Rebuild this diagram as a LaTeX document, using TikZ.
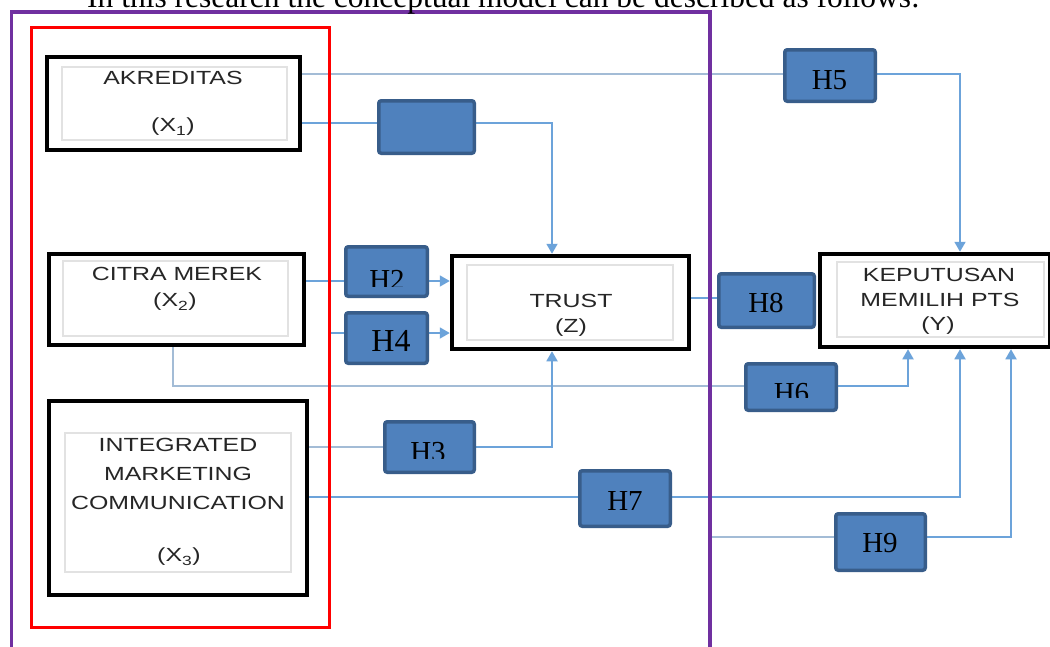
\documentclass[tikz,border=0pt]{standalone}
\usepackage{fontspec}
\usepackage{graphicx}
\setmainfont{Liberation Serif}
\newfontfamily\arialf{Liberation Sans}
\usetikzlibrary{arrows.meta}
\definecolor{hfill}{RGB}{79,129,189}
\definecolor{hdraw}{RGB}{56,93,138}
\definecolor{connb}{RGB}{108,163,218}
\definecolor{conngr}{RGB}{163,188,214}
\definecolor{purp}{RGB}{112,48,160}
\definecolor{innergrey}{RGB}{226,226,226}
\newcommand{\boxtxt}[1]{\scalebox{1.31}[1]{#1}}
\pgfdeclarelayer{bglayer}
\pgfdeclarelayer{framelayer}
\pgfsetlayers{bglayer,framelayer,main}
\begin{document}
\begin{tikzpicture}[x=1pt,y=-1pt,
  bigbox/.style={draw=black, line width=4.5pt, fill=white, inner sep=0pt},
  innerbox/.style={draw=innergrey, line width=1.2pt, inner sep=0pt},
  hbox/.style={draw=hdraw, fill=hfill, line width=3.5pt, rounded corners=2.5pt, inner sep=0pt},
  hlabel/.style={font=\fontsize{29}{30}\selectfont, text=black, inner sep=0pt},
  vtext/.style={font=\arialf\fontsize{19}{22}\selectfont, text=black!85, inner sep=0pt},
  lineb/.style={draw=connb, line width=1.8pt},
  lineg/.style={draw=conngr, line width=1.8pt},
  arr/.style={-{Triangle[width=11pt,length=10pt]}}
]
\useasboundingbox (0,0) rectangle (1050,646);

% title line (cut at the top)
\node[anchor=base west, font=\fontsize{31.5}{32}\selectfont, inner sep=0pt] (title) at (87,7)
  {In this research the conceptual model can be described as follows:};

% frames
\begin{pgfonlayer}{framelayer}
\clip (0,0) rectangle (1050,646);
\draw[purp, line width=3.2pt] (11.5,700) -- (11.5,12) -- (710,12) -- (710,700);
\draw[red, line width=3pt] (31,27) rectangle (329.5,627);
\end{pgfonlayer}

% variable boxes
\node[bigbox, minimum width=253, minimum height=93] (akr) at (173.5,103.5) {};
\node[bigbox, minimum width=255, minimum height=91] (citra) at (176.5,299.5) {};
\node[bigbox, minimum width=258, minimum height=194] (imc) at (178,498) {};
\node[bigbox, minimum width=237, minimum height=93] (trust) at (570.5,302.5) {};
\node[bigbox, minimum width=230, minimum height=93] (kep) at (935,300.5) {};

\node[innerbox, minimum width=225, minimum height=73] (akrIn) at (174.5,103.5) {};
\node[innerbox, minimum width=225, minimum height=75] (citraIn) at (175.5,298.5) {};
\node[innerbox, minimum width=226, minimum height=139] (imcIn) at (178,502.5) {};
\node[innerbox, minimum width=206, minimum height=75] (trustIn) at (570,302.5) {};
\node[innerbox, minimum width=207, minimum height=75] (kepIn) at (940.5,299.5) {};

\node[vtext] (akrT1) at (173,78) {\boxtxt{AKREDITAS}};
\node[vtext] (akrT2) at (173,127) {\boxtxt{(X\textsubscript{1})}};
\node[vtext] (citraT1) at (177,274) {\boxtxt{CITRA MEREK}};
\node[vtext] (citraT2) at (175,302) {\boxtxt{(X\textsubscript{2})}};
\node[vtext] (imcT1) at (178,445) {\boxtxt{INTEGRATED}};
\node[vtext] (imcT2) at (178,474) {\boxtxt{MARKETING}};
\node[vtext] (imcT3) at (178,503) {\boxtxt{COMMUNICATION}};
\node[vtext] (imcT4) at (179,557) {\boxtxt{(X\textsubscript{3})}};
\node[vtext] (trustT1) at (571,301) {\boxtxt{TRUST}};
\node[vtext] (trustT2) at (571,328) {\boxtxt{(Z)}};
\node[vtext] (kepT1) at (939,275) {\boxtxt{KEPUTUSAN}};
\node[vtext] (kepT2) at (940,300) {\boxtxt{MEMILIH PTS}};
\node[vtext] (kepT3) at (938,326) {\boxtxt{(Y)}};

% hypothesis boxes
\node[hbox, minimum width=95.5, minimum height=52.5] (blank) at (426.5,127) {};
\node[hbox, minimum width=90.5, minimum height=51.5] (h5) at (830,75.5) {};
\node[hbox, minimum width=81.5, minimum height=49.5] (h2) at (386.5,271.5) {};
\node[hbox, minimum width=81.5, minimum height=50.5] (h4) at (386.5,338) {};
\node[hbox, minimum width=95.5, minimum height=53.5] (h8) at (766.5,300.5) {};
\node[hbox, minimum width=90.5, minimum height=46.5] (h6) at (791,387) {};
\node[hbox, minimum width=89.5, minimum height=50.5] (h3) at (429.5,447) {};
\node[hbox, minimum width=90.5, minimum height=55.5] (h7) at (625,498.5) {};
\node[hbox, minimum width=89.5, minimum height=56.5] (h9) at (880.5,542) {};

\node[hlabel] (h5t) at (829.5,80.5) {H5};
\node[hlabel] (h8t) at (766,303) {H8};
\node[hlabel] (h9t) at (880,543.5) {H9};
\node[hlabel] (h7t) at (625,500.5) {H7};
\node[hlabel, font=\fontsize{32}{33}\selectfont] (h4t) at (391,341) {H4};
\begin{scope}
  \clip (344,245) rectangle (429,286);
  \node[hlabel, anchor=north] (h2t) at (387,270) {H2};
\end{scope}
\begin{scope}
  \clip (744,362) rectangle (838,397);
  \node[hlabel, anchor=north] (h6t) at (791.5,383) {H6};
\end{scope}
\begin{scope}
  \clip (383,420) rectangle (476,458);
  \node[hlabel, anchor=north] (h3t) at (428,442) {H3};
\end{scope}

\coordinate (h4src) at (330,333);
\coordinate (h9src) at (710,537);

% connectors
\begin{pgfonlayer}{bglayer}
\fill[white] (0,0) rectangle (1050,646);
\draw[lineg] (akr.east |- 0,74) -- (h5.west |- 0,74);
\draw[lineb, arr] (h5.east |- 0,74) -| ([xshift=25pt]kep.north);
\draw[lineb] (akr.east |- 0,123) -- (blank.west |- 0,123);
\draw[lineb, arr] (blank.east |- 0,123) -| ([xshift=-18.5pt]trust.north);
\draw[lineb] (citra.east |- 0,281) -- (h2.west |- 0,281);
\draw[lineb, arr] (h2.east |- 0,281) -- (trust.west |- 0,281);
\draw[lineb] (h4src) -- (h4.west |- h4src);
\draw[lineb, arr] (h4.east |- h4src) -- (trust.west |- h4src);
\draw[lineg] ([xshift=-3.5pt]citra.south) |- (h6.west |- 0,386);
\draw[lineb, arr] (h6.east |- 0,386) -| ([xshift=-27pt]kep.south);
\draw[lineg] (imc.east |- 0,447) -- (h3.west |- 0,447);
\draw[lineb, arr] (h3.east |- 0,447) -| ([xshift=-18.5pt]trust.south);
\draw[lineb] (imc.east |- 0,497) -- (h7.west |- 0,497);
\draw[lineb, arr] (h7.east |- 0,497) -| ([xshift=25pt]kep.south);
\draw[lineg] (h9src) -- (h9.west |- h9src);
\draw[lineb, arr] (h9.east |- h9src) -| ([xshift=76pt]kep.south);
\draw[lineb] (trust.east |- 0,298) -- (h8.west |- 0,298);
\end{pgfonlayer}
\end{tikzpicture}
\end{document}
